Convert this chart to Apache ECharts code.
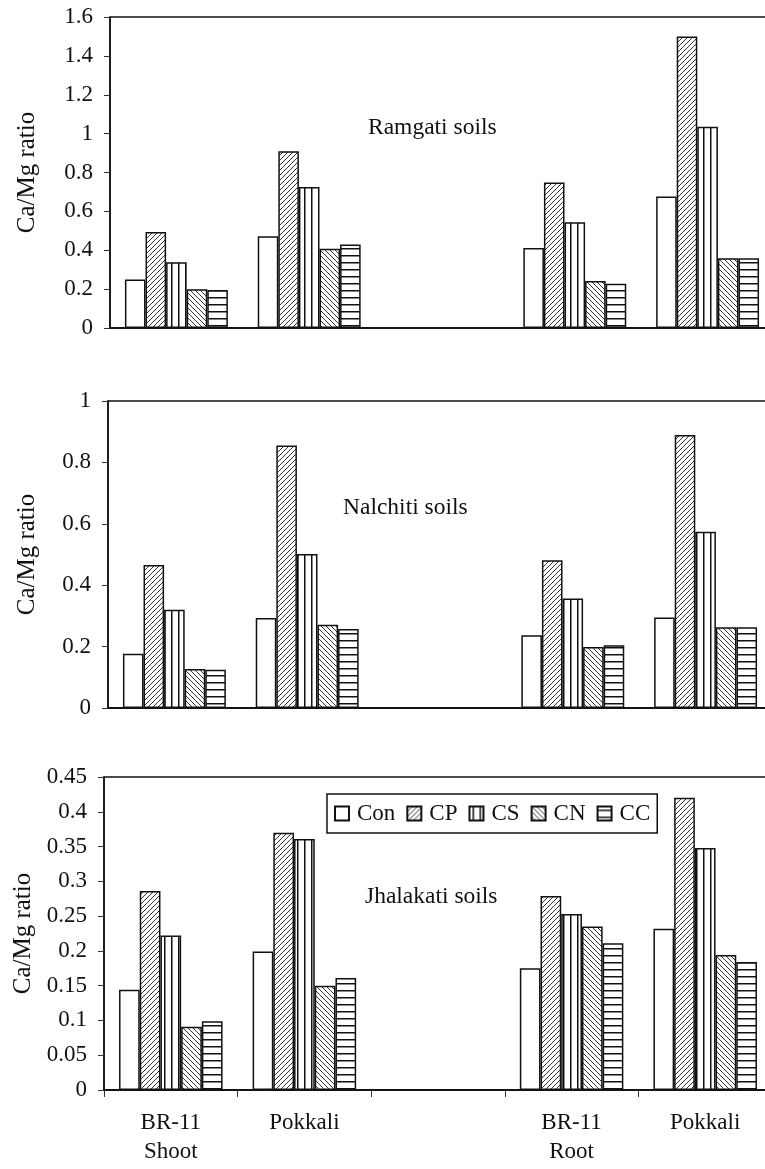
<!DOCTYPE html>
<html>
<head>
<meta charset="utf-8">
<script src="https://cdn.jsdelivr.net/npm/echarts@6/dist/echarts.min.js"></script>
<style>
  html, body { margin: 0; padding: 0; background: #fff; }
  #chart { width: 765px; height: 1169px; }
</style>
</head>
<body>
<div id="chart"></div>
<script>
// ---- Data ----
const categories = ['BR-11\nShoot', 'Pokkali', '', 'BR-11\nRoot', 'Pokkali'];
const seriesNames = ['Con', 'CP', 'CS', 'CN', 'CC'];

const ramgatiCon = [0.249, 0.472, null, 0.411, 0.676];
const ramgatiCP  = [0.494, 0.909, null, 0.748, 1.500];
const ramgatiCS  = [0.338, 0.725, null, 0.544, 1.036];
const ramgatiCN  = [0.200, 0.408, null, 0.242, 0.359];
const ramgatiCC  = [0.195, 0.430, null, 0.228, 0.359];

const nalchitiCon = [0.177, 0.293, null, 0.237, 0.295];
const nalchitiCP  = [0.466, 0.855, null, 0.481, 0.889];
const nalchitiCS  = [0.320, 0.502, null, 0.357, 0.574];
const nalchitiCN  = [0.127, 0.271, null, 0.199, 0.263];
const nalchitiCC  = [0.125, 0.257, null, 0.204, 0.263];

const jhalakatiCon = [0.144, 0.199, null, 0.175, 0.232];
const jhalakatiCP  = [0.286, 0.370, null, 0.279, 0.420];
const jhalakatiCS  = [0.222, 0.361, null, 0.253, 0.348];
const jhalakatiCN  = [0.091, 0.150, null, 0.235, 0.194];
const jhalakatiCC  = [0.099, 0.161, null, 0.211, 0.184];

const panelTitles = ['Ramgati soils', 'Nalchiti soils', 'Jhalakati soils'];
const yMax = [1.6, 1, 0.45];
const yInterval = [0.2, 0.2, 0.05];

// ---- Patterns ----
function makePattern(type) {
  const c = document.createElement('canvas');
  const ctx = c.getContext('2d');
  if (type === 'slash' || type === 'backslash') {
    const s = 5;
    c.width = s; c.height = s;
    ctx.fillStyle = '#fff'; ctx.fillRect(0, 0, s, s);
    ctx.strokeStyle = '#333'; ctx.lineWidth = 1;
    ctx.beginPath();
    if (type === 'slash') {
      ctx.moveTo(0, s); ctx.lineTo(s, 0);
      ctx.moveTo(-1, 1); ctx.lineTo(1, -1);
      ctx.moveTo(s - 1, s + 1); ctx.lineTo(s + 1, s - 1);
    } else {
      ctx.moveTo(0, 0); ctx.lineTo(s, s);
      ctx.moveTo(-1, s - 1); ctx.lineTo(1, s + 1);
      ctx.moveTo(s - 1, -1); ctx.lineTo(s + 1, 1);
    }
    ctx.stroke();
  } else if (type === 'vertical') {
    c.width = 7; c.height = 4;
    ctx.fillStyle = '#fff'; ctx.fillRect(0, 0, 7, 4);
    ctx.fillStyle = '#111'; ctx.fillRect(3, 0, 1.5, 4);
  } else if (type === 'horizontal') {
    c.width = 4; c.height = 7;
    ctx.fillStyle = '#fff'; ctx.fillRect(0, 0, 4, 7);
    ctx.fillStyle = '#111'; ctx.fillRect(0, 3, 4, 1.5);
  }
  return { image: c, repeat: 'repeat' };
}
const fills = [
  '#ffffff',
  makePattern('slash'),
  makePattern('vertical'),
  makePattern('backslash'),
  makePattern('horizontal')
];

const panelData = [
  [ramgatiCon, ramgatiCP, ramgatiCS, ramgatiCN, ramgatiCC],
  [nalchitiCon, nalchitiCP, nalchitiCS, nalchitiCN, nalchitiCC],
  [jhalakatiCon, jhalakatiCP, jhalakatiCS, jhalakatiCN, jhalakatiCC]
];

const FONT = 'Liberation Serif';
const grids = [
  { left: 110, top: 17, height: 311, width: 664 },
  { left: 108, top: 401, height: 307, width: 664 },
  { left: 104, top: 777, height: 313, width: 668 }
];
const nameGaps = [70, 68, 67];

const xAxes = [], yAxes = [], series = [];
grids.forEach((g, i) => {
  const isBottom = i === 2;
  const xBase = {
    type: 'category', data: categories, gridIndex: i,
    axisLine: { show: true, lineStyle: { color: '#111', width: 1.5 } },
    axisLabel: {
      show: isBottom, interval: 0, margin: 18,
      fontFamily: FONT, fontSize: 23, color: '#111', lineHeight: 29
    },
    splitLine: { show: false }
  };
  xAxes.push(Object.assign({}, xBase, {
    axisTick: { show: isBottom, length: 7, inside: false, alignWithLabel: false, lineStyle: { color: '#333' } }
  }));
  xAxes.push(Object.assign({}, xBase, {
    axisLabel: { show: false },
    axisTick: { show: isBottom, length: 4, inside: true, lineStyle: { color: '#333' } }
  }));
  const fmt = v => String(+v.toFixed(2));
  const yBase = {
    type: 'value', gridIndex: i, min: 0, max: yMax[i], interval: yInterval[i],
    axisLine: { show: true, lineStyle: { color: '#111', width: 1.5 } },
    splitLine: { show: false }
  };
  yAxes.push(Object.assign({}, yBase, {
    name: 'Ca/Mg ratio', nameLocation: 'middle', nameRotate: 90, nameGap: nameGaps[i],
    nameTextStyle: { fontFamily: FONT, fontSize: 25, color: '#111' },
    axisTick: { show: true, length: 6, inside: false, lineStyle: { color: '#333' } },
    axisLabel: { fontFamily: FONT, fontSize: 23, color: '#111', margin: 17, formatter: fmt }
  }));
  yAxes.push(Object.assign({}, yBase, {
    axisTick: { show: true, length: 5, inside: true, lineStyle: { color: '#333' } },
    axisLabel: { show: false }
  }));
  panelData[i].forEach((vals, k) => {
    series.push({
      type: 'bar', name: seriesNames[k],
      xAxisIndex: i * 2, yAxisIndex: i * 2,
      data: vals,
      barGap: '0%', barCategoryGap: '22.5%',
      itemStyle: { color: fills[k], borderColor: '#111', borderWidth: 1.5 },
      emphasis: { disabled: true },
      animation: false
    });
  });
});

const chart = echarts.init(document.getElementById('chart'), null, { renderer: 'canvas' });
chart.setOption({
  backgroundColor: '#fff',
  animation: false,
  grid: grids.map(g => Object.assign({ show: true, borderColor: '#111', borderWidth: 1.5, containLabel: false, outerBoundsMode: 'none' }, g)),
  xAxis: xAxes,
  yAxis: yAxes,
  legend: {
    data: seriesNames,
    left: 327, top: 794,
    orient: 'horizontal',
    padding: [8, 7, 8, 7],
    itemGap: 11, itemWidth: 14, itemHeight: 14,
    borderColor: '#111', borderWidth: 1.5,
    icon: 'rect',
    selectedMode: false,
    textStyle: { fontFamily: FONT, fontSize: 23, color: '#111', padding: [0, 0, 0, 3] }
  },
  graphic: [
    { type: 'text', left: 368, top: 116, style: { text: panelTitles[0], font: '23.5px "Liberation Serif"', fill: '#111' } },
    { type: 'text', left: 343, top: 496, style: { text: panelTitles[1], font: '23.5px "Liberation Serif"', fill: '#111' } },
    { type: 'text', left: 365, top: 885, style: { text: panelTitles[2], font: '23.5px "Liberation Serif"', fill: '#111' } }
  ],
  series: series
});
</script>
</body>
</html>
